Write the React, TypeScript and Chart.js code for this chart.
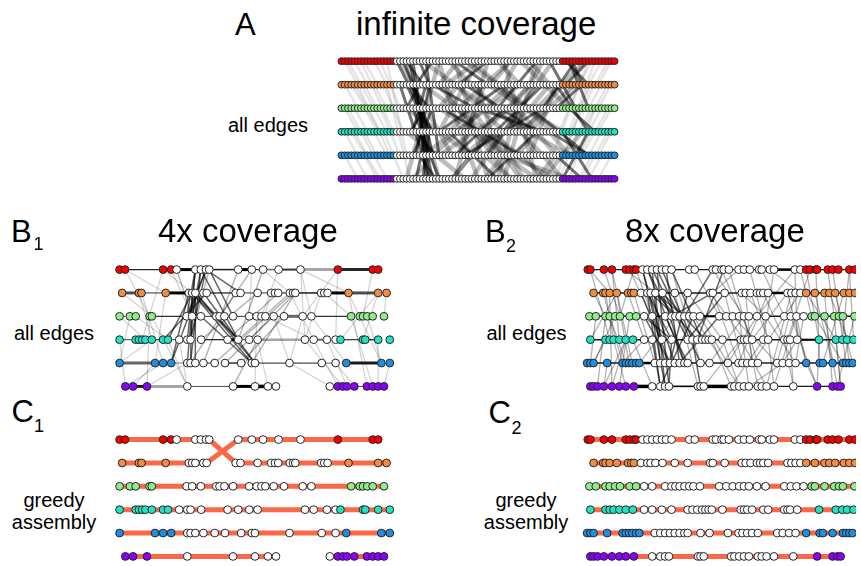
import React, { useEffect, useRef } from "react";
import { Chart, registerables } from "chart.js";

Chart.register(...registerables);

// ---------- colours of the six reference sequences (rows) ----------
const ROW_COLORS = ["#f50000", "#f28c45", "#90ec8c", "#22e2c4", "#1c8fe2", "#8a00fa"];
const GREEDY_COLOR = "#fa6848";

// ---------- panel A: infinite coverage (every position sampled) ----------
const A_POSITIONS = [
  0, 1, 2, 3, 4, 5, 6, 7, 8, 9, 10, 11, 12, 13, 14, 15, 16, 17, 18, 19, 20,
  21, 22, 23, 24, 25, 26, 27, 28, 29, 30, 31, 32, 33, 34, 35, 36, 37, 38, 39,
  40, 41, 42, 43, 44, 45, 46, 47, 48, 49, 50, 51, 52, 53, 54, 55, 56, 57, 58,
  59, 60, 61, 62, 63, 64, 65, 66, 67, 68, 69, 70, 71, 72, 73, 74, 75, 76, 77,
  78, 79, 80, 81, 82, 83, 84,
];
const A_LEFT_COLORED = [17, 17, 17, 17, 17, 17];
const A_RIGHT_COLORED = [17, 17, 17, 17, 17, 17];

// edges: [rowFrom, posFrom, rowTo, posTo, opacity, width]
const A_EDGES_FAINT = [
  [0, 1, 1, 5], [0, 4, 1, 8], [0, 7, 1, 11], [0, 10, 1, 14], [1, 1, 2, 5], [1, 4, 2, 8],
  [1, 7, 2, 11], [1, 10, 2, 14], [2, 1, 3, 5], [2, 4, 3, 8], [2, 7, 3, 11], [2, 10, 3, 14],
  [3, 1, 4, 5], [3, 4, 4, 8], [3, 7, 4, 11], [3, 10, 4, 14], [4, 1, 5, 5], [4, 4, 5, 8],
  [4, 7, 5, 11], [4, 10, 5, 14], [0, 2, 2, 10], [1, 3, 3, 12], [2, 2, 4, 10], [3, 3, 5, 12],
  [0, 6, 3, 16], [1, 5, 4, 15], [0, 83, 1, 79], [0, 80, 1, 76], [0, 77, 1, 73], [1, 83, 2, 79],
  [1, 80, 2, 76], [1, 77, 2, 73], [2, 83, 3, 79], [2, 80, 3, 76], [2, 77, 3, 73], [3, 83, 4, 79],
  [3, 80, 4, 76], [3, 77, 4, 73], [4, 83, 5, 79], [4, 80, 5, 76], [4, 77, 5, 73], [0, 82, 2, 74],
  [1, 82, 3, 74], [2, 82, 4, 74], [3, 82, 5, 74], [0, 78, 3, 70], [2, 78, 5, 70],
  [0, 12, 2, 18], [1, 13, 3, 19], [2, 12, 4, 18], [3, 13, 5, 19], [0, 14, 4, 20], [1, 14, 5, 21],
  [0, 74, 2, 68], [1, 73, 3, 67], [2, 74, 4, 68], [3, 73, 5, 67], [1, 76, 5, 66], [0, 76, 4, 65],
];
const A_EDGES_HAZE = [
  [0, 20, 5, 30], [0, 30, 5, 20], [0, 35, 5, 45], [0, 45, 5, 35], [0, 50, 5, 60], [0, 60, 5, 50],
  [1, 25, 4, 55], [1, 55, 4, 25], [2, 30, 5, 65], [0, 40, 3, 65], [1, 60, 5, 40], [0, 55, 2, 70],
  [3, 40, 5, 60], [2, 45, 4, 70], [0, 65, 4, 45], [1, 35, 3, 50], [2, 20, 4, 40], [3, 20, 5, 38],
  [0, 25, 2, 45], [1, 45, 3, 68], [4, 50, 5, 70], [2, 60, 0, 75], [3, 55, 1, 72], [5, 62, 3, 74],
  [0, 18, 4, 34], [1, 30, 5, 52], [2, 36, 0, 52], [3, 44, 1, 58], [4, 30, 2, 52], [5, 34, 3, 46],
  [0, 38, 2, 58], [1, 48, 4, 66], [2, 54, 5, 48], [4, 58, 1, 66], [3, 30, 0, 42], [5, 55, 2, 40],
  [0, 33, 1, 40], [1, 40, 2, 48], [2, 48, 3, 55], [3, 55, 4, 62], [4, 62, 5, 68], [0, 48, 1, 55],
  [1, 52, 2, 44], [2, 44, 3, 36], [3, 36, 4, 28], [4, 28, 5, 22], [0, 58, 1, 64], [1, 64, 2, 58],
  [2, 58, 3, 50], [3, 50, 4, 44], [4, 44, 5, 52], [0, 42, 1, 32], [1, 32, 2, 36], [2, 36, 3, 42],
  [3, 42, 4, 50], [4, 50, 5, 44], [0, 52, 1, 46], [2, 64, 3, 58], [4, 66, 5, 60], [1, 68, 2, 62],
  [3, 64, 4, 70], [0, 62, 1, 58], [2, 52, 4, 60], [1, 42, 3, 46], [3, 48, 5, 56], [0, 30, 2, 34],
  [0, 36, 1, 30], [1, 36, 2, 30], [2, 40, 3, 33], [3, 46, 4, 38], [4, 40, 5, 34], [0, 54, 1, 50],
  [1, 58, 2, 52], [2, 62, 3, 56], [3, 60, 4, 54], [4, 56, 5, 62], [1, 44, 4, 36], [2, 34, 5, 42],
];
const A_EDGES_BAND = [
  [0, 17, 3, 28], [0, 19, 2, 25], [0, 21, 4, 27], [1, 20, 3, 27], [1, 22, 5, 28], [2, 24, 5, 26],
  [0, 24, 1, 27], [1, 18, 4, 25], [2, 28, 4, 22], [3, 26, 5, 23], [0, 26, 4, 30], [1, 28, 2, 41],
  [2, 22, 5, 30], [3, 23, 4, 29], [0, 22, 5, 27], [1, 26, 3, 22], [2, 26, 3, 21], [4, 24, 5, 29],
  [1, 24, 2, 20], [0, 28, 1, 23], [2, 31, 4, 55], [1, 38, 3, 60], [0, 35, 1, 45], [0, 45, 1, 36],
  [3, 33, 5, 48], [2, 50, 4, 35], [1, 50, 3, 30], [0, 60, 2, 48], [3, 60, 5, 45], [2, 42, 3, 62],
  [4, 38, 2, 62], [1, 62, 4, 40], [0, 69, 1, 76], [0, 76, 1, 69], [0, 71, 1, 74], [1, 66, 3, 76],
  [2, 58, 4, 76], [3, 68, 5, 77], [3, 76, 5, 68], [2, 70, 3, 78], [4, 66, 5, 74], [1, 74, 2, 66],
  [0, 64, 2, 72], [4, 76, 3, 64], [0, 72, 2, 62], [1, 21, 2, 27], [2, 23, 3, 28], [3, 24, 4, 26],
  [4, 25, 5, 27], [1, 27, 4, 23], [2, 25, 4, 28], [0, 20, 1, 25], [3, 27, 5, 25], [0, 70, 2, 76],
];

// ---------- panel B1 / C1: 4x coverage, read positions per row ----------
const B1_ROW0 = [30, 47, 165, 190, 207, 265, 282, 298, 308, 398, 440, 475, 523, 591, 707, 815, 832];
const B1_ROW1 = [38, 90, 98, 173, 245, 255, 265, 290, 300, 390, 405, 458, 500, 512, 522, 558, 568, 575, 655, 665, 675, 740, 832, 858];
const B1_ROW2 = [30, 62, 80, 123, 130, 238, 255, 282, 330, 340, 355, 382, 432, 455, 470, 482, 508, 540, 598, 625, 748, 775, 785, 798, 815, 850];
const B1_ROW3 = [30, 80, 90, 100, 110, 130, 165, 180, 215, 240, 250, 283, 365, 398, 432, 458, 605, 632, 673, 700, 715, 785, 792, 832, 868];
const B1_ROW4 = [30, 140, 165, 190, 240, 250, 265, 290, 325, 357, 407, 440, 450, 557, 657, 700, 733, 842, 868];
const B1_ROW5 = [48, 72, 115, 240, 382, 450, 490, 515, 682, 707, 722, 735, 758, 797, 815, 832, 850];
const B1_LEFT_COLORED = [4, 4, 5, 8, 4, 3];
const B1_RIGHT_COLORED = [3, 3, 6, 5, 3, 8];

const B1_ROW_EDGES = [
  [0, 30, 0, 47, 0.7, 1], [0, 47, 0, 165, 0.85, 1.2], [0, 165, 0, 207, 0.8, 1.2], [0, 207, 0, 265, 1, 3],
  [0, 308, 0, 398, 0.9, 1.5], [0, 398, 0, 440, 1, 3], [0, 440, 0, 475, 0.8, 1.2], [0, 475, 0, 523, 0.6, 1.5],
  [0, 523, 0, 591, 0.8, 2], [0, 591, 0, 707, 0.35, 3], [0, 707, 0, 815, 0.85, 3],
  [1, 38, 1, 90, 0.7, 3], [1, 98, 1, 173, 0.8, 1], [1, 173, 1, 245, 1, 3], [1, 300, 1, 390, 0.9, 1.2],
  [1, 405, 1, 458, 0.8, 1], [1, 458, 1, 500, 0.8, 1], [1, 522, 1, 558, 0.8, 1.2], [1, 575, 1, 655, 0.9, 1.5],
  [1, 675, 1, 740, 1, 3], [1, 740, 1, 832, 0.7, 3],
  [2, 30, 2, 62, 0.6, 1], [2, 130, 2, 238, 0.8, 1.2], [2, 282, 2, 330, 0.8, 1], [2, 382, 2, 432, 0.8, 1],
  [2, 508, 2, 540, 0.7, 1], [2, 540, 2, 598, 0.6, 3], [2, 625, 2, 748, 0.8, 1.2],
  [3, 30, 3, 80, 0.6, 1.2], [3, 130, 3, 165, 0.7, 1.2], [3, 180, 3, 215, 0.7, 1], [3, 283, 3, 365, 0.9, 1.2],
  [3, 365, 3, 398, 1, 3], [3, 398, 3, 432, 0.8, 1], [3, 458, 3, 605, 0.35, 2.5], [3, 632, 3, 673, 0.6, 2],
  [3, 715, 3, 785, 0.8, 1.2], [3, 792, 3, 832, 0.8, 1.5],
  [4, 30, 4, 140, 0.6, 3], [4, 140, 4, 165, 0.8, 1], [4, 190, 4, 240, 0.5, 1], [4, 290, 4, 325, 0.8, 1],
  [4, 357, 4, 407, 0.8, 1.5], [4, 450, 4, 557, 0.7, 1.2], [4, 557, 4, 657, 0.7, 1.2], [4, 657, 4, 700, 0.6, 1],
  [4, 733, 4, 842, 0.9, 3],
  [5, 48, 5, 72, 0.8, 1.2], [5, 72, 5, 115, 0.9, 3], [5, 115, 5, 240, 0.35, 3], [5, 240, 5, 382, 0.7, 1],
  [5, 382, 5, 450, 1, 3], [5, 450, 5, 490, 1, 3.5], [5, 490, 5, 515, 0.8, 1], [5, 682, 5, 850, 0.7, 1],
];
const B1_CROSS_DARK = [
  [0, 265, 3, 240], [0, 282, 4, 250], [0, 298, 3, 250], [0, 282, 2, 255], [0, 265, 4, 240], [1, 255, 4, 250],
  [1, 265, 3, 250], [1, 265, 4, 265], [0, 298, 1, 405], [0, 308, 2, 382], [1, 265, 3, 398], [1, 255, 4, 440],
  [1, 290, 4, 450], [2, 282, 4, 440], [0, 282, 3, 398], [1, 245, 4, 190], [1, 255, 3, 180], [0, 298, 4, 190],
  [1, 300, 3, 165], [0, 265, 2, 238], [1, 265, 4, 450], [1, 255, 3, 398], [0, 298, 2, 238],
];
const B1_CROSS_GRAY = [
  [3, 398, 1, 558], [3, 365, 1, 522], [4, 357, 2, 508], [4, 325, 1, 568], [3, 432, 1, 575], [4, 407, 2, 540],
  [5, 382, 3, 458], [3, 283, 1, 458], [4, 290, 0, 398], [2, 340, 0, 440], [3, 398, 0, 475], [4, 440, 1, 575],
  [4, 250, 1, 390], [3, 250, 0, 308], [2, 255, 0, 207],
];
const B1_CROSS_FAINT = [
  [0, 47, 2, 123], [0, 165, 3, 100], [1, 90, 3, 130], [1, 173, 4, 140], [2, 62, 4, 30], [3, 30, 5, 48],
  [2, 123, 5, 115], [4, 140, 5, 72], [0, 591, 2, 625], [1, 655, 3, 605], [1, 740, 5, 797], [1, 740, 4, 842],
  [2, 748, 5, 815], [2, 625, 4, 733], [3, 632, 5, 707], [0, 707, 3, 700], [2, 598, 0, 707], [3, 715, 1, 832],
  [4, 700, 5, 758], [3, 673, 5, 735], [2, 508, 4, 557], [0, 591, 3, 605], [4, 557, 2, 598], [1, 558, 3, 632],
  [5, 240, 3, 215], [5, 240, 2, 130], [4, 240, 5, 115], [3, 458, 5, 490], [2, 455, 5, 450], [0, 440, 2, 432],
  [1, 500, 3, 458], [0, 523, 2, 470], [0, 190, 2, 255], [1, 98, 4, 165], [2, 80, 3, 180], [0, 165, 1, 255],
  [0, 47, 1, 173], [1, 38, 2, 130], [2, 30, 3, 110], [3, 130, 4, 30], [4, 165, 5, 48], [3, 180, 5, 240],
  [0, 815, 2, 785], [1, 832, 3, 785], [2, 798, 4, 842], [3, 832, 5, 832], [2, 850, 1, 858], [4, 868, 5, 850],
  [0, 475, 1, 558], [2, 482, 3, 632], [4, 557, 5, 682], [3, 605, 5, 722], [1, 665, 2, 748], [0, 591, 1, 740],
];

// greedy assembly for 4x: [rowFrom, posFrom, rowTo, posTo]
const C1_PATHS = [
  [0, 30, 0, 308], [0, 308, 1, 390], [1, 300, 0, 398], [0, 398, 0, 832],
  [1, 38, 1, 300], [1, 390, 1, 858],
  [2, 30, 2, 850], [3, 30, 3, 868], [4, 30, 4, 868],
  [5, 48, 5, 515], [5, 682, 5, 850],
];

// ---------- panel B2 / C2: 8x coverage ----------
const B2_ROW0 = [40, 48, 90, 115, 158, 170, 183, 190, 210, 225, 240, 255, 270, 283, 300, 355, 372, 428, 438, 455, 462, 478, 508, 525, 543, 572, 580, 605, 618, 683, 700, 718, 730, 748, 752, 785, 800, 818, 852, 870];
const B2_ROW1 = [58, 88, 95, 108, 130, 165, 175, 183, 205, 225, 235, 250, 272, 310, 350, 420, 428, 465, 518, 530, 545, 565, 575, 585, 600, 660, 672, 685, 700, 718, 745, 775, 790, 808, 835, 852, 870];
const B2_ROW2 = [45, 65, 95, 108, 125, 140, 170, 190, 215, 240, 280, 300, 312, 325, 340, 355, 368, 388, 448, 470, 490, 510, 525, 540, 565, 592, 650, 670, 688, 710, 735, 745, 775, 805, 820, 832, 868];
const B2_ROW3 = [48, 95, 108, 120, 138, 158, 180, 215, 240, 270, 300, 350, 365, 380, 395, 405, 415, 425, 458, 515, 525, 535, 550, 585, 600, 650, 660, 668, 690, 758, 810, 830, 845, 865];
const B2_ROW4 = [38, 48, 58, 100, 148, 158, 168, 178, 190, 200, 248, 265, 280, 295, 310, 325, 340, 350, 390, 418, 475, 508, 520, 535, 550, 568, 628, 645, 665, 685, 718, 760, 770, 800, 832, 842, 852, 862];
const B2_ROW5 = [48, 58, 70, 90, 115, 138, 158, 183, 240, 265, 280, 292, 382, 390, 400, 485, 495, 510, 525, 540, 568, 580, 595, 618, 678, 752, 800, 815, 825];
const B2_LEFT_COLORED = [8, 8, 8, 7, 10, 8];
const B2_RIGHT_COLORED = [9, 8, 7, 5, 8, 4];

const B2_ROW_EDGES = [
  [0, 40, 0, 870, 0.9, 1.4], [0, 618, 0, 683, 1, 2.5],
  [1, 58, 1, 870, 0.9, 1.4], [1, 600, 1, 660, 1, 2.5],
  [2, 45, 2, 868, 0.9, 1.4], [2, 388, 2, 448, 1, 2],
  [3, 48, 3, 865, 0.9, 1.4], [3, 690, 3, 758, 1, 2],
  [4, 38, 4, 862, 0.9, 1.4], [4, 200, 4, 248, 1, 2.5],
  [5, 48, 5, 825, 0.9, 1.4], [5, 183, 5, 240, 1, 3.5], [5, 400, 5, 485, 1, 3.5], [5, 292, 5, 382, 0.9, 1.5],
];
const B2_CROSS_DARK = [
  [0, 225, 2, 300], [0, 240, 3, 350], [0, 255, 2, 325], [0, 270, 3, 365], [1, 225, 3, 300], [1, 235, 4, 310],
  [1, 250, 2, 340], [1, 250, 3, 380], [1, 272, 4, 340], [0, 283, 4, 325], [2, 215, 4, 295], [2, 240, 5, 280],
  [1, 225, 5, 265], [0, 210, 4, 280], [2, 280, 4, 350], [3, 300, 5, 292], [0, 300, 3, 395], [1, 272, 3, 405],
  [0, 240, 4, 265], [2, 300, 1, 428], [3, 350, 1, 465], [4, 325, 2, 448], [2, 340, 0, 428], [3, 380, 0, 462],
  [0, 210, 3, 270], [1, 205, 4, 295], [0, 255, 5, 292], [1, 235, 2, 312], [2, 215, 3, 300], [3, 240, 5, 265],
  [0, 225, 4, 340], [1, 250, 5, 280], [2, 325, 4, 390], [3, 365, 5, 390], [4, 295, 1, 350], [5, 265, 2, 368],
];
const B2_CROSS_GRAY = [
  [0, 90, 2, 140], [0, 115, 3, 138], [1, 95, 3, 120], [1, 130, 4, 168], [2, 108, 4, 158], [2, 170, 5, 138],
  [3, 158, 5, 115], [0, 158, 1, 250], [0, 190, 2, 240], [1, 165, 3, 215], [1, 183, 4, 248], [3, 180, 5, 240],
  [4, 100, 5, 90], [2, 65, 4, 48], [0, 45, 1, 108], [1, 58, 2, 95], [3, 95, 4, 58], [0, 170, 3, 270],
  [4, 200, 2, 312], [0, 428, 2, 525], [0, 455, 3, 550], [0, 478, 4, 568], [1, 420, 3, 525], [1, 465, 4, 520],
  [1, 518, 2, 592], [1, 545, 3, 600], [2, 490, 4, 628], [2, 510, 5, 540], [3, 458, 5, 510], [3, 515, 5, 595],
  [4, 475, 2, 565], [4, 508, 1, 600], [4, 550, 2, 650], [5, 485, 3, 585], [5, 540, 4, 645], [3, 550, 1, 660],
  [2, 565, 0, 683], [1, 585, 3, 650], [0, 700, 2, 735], [0, 718, 3, 758], [0, 748, 4, 760], [0, 785, 2, 805],
  [1, 718, 3, 810], [1, 745, 4, 800], [1, 775, 5, 800], [2, 745, 4, 832], [2, 775, 5, 815], [3, 758, 5, 752],
  [3, 810, 5, 825], [4, 718, 5, 752], [2, 688, 4, 718], [3, 668, 5, 678], [1, 700, 2, 650], [0, 683, 3, 690],
  [4, 685, 2, 710], [5, 678, 3, 650], [1, 808, 4, 862], [0, 852, 3, 865], [2, 832, 4, 852], [0, 300, 4, 390],
  [1, 310, 5, 382], [2, 388, 4, 475], [3, 425, 5, 485], [1, 350, 3, 458], [0, 372, 2, 448], [4, 418, 2, 525],
  [5, 400, 3, 515], [0, 508, 1, 428], [2, 592, 4, 685], [3, 600, 5, 618], [0, 605, 1, 700], [1, 428, 4, 508],
  [2, 368, 5, 510], [0, 48, 3, 108], [1, 88, 4, 148], [2, 95, 5, 70], [3, 120, 5, 158], [4, 58, 2, 125],
  [0, 115, 4, 178], [1, 108, 5, 115], [3, 48, 1, 130], [2, 140, 0, 183], [4, 148, 3, 215], [5, 90, 3, 158],
  [0, 543, 3, 600], [1, 530, 4, 550], [2, 525, 5, 568], [3, 585, 0, 618], [4, 628, 1, 685], [5, 618, 2, 688],
  [0, 580, 2, 650], [1, 660, 4, 718], [2, 670, 5, 752], [3, 660, 0, 730], [4, 645, 3, 690], [5, 595, 1, 672],
  [0, 800, 4, 842], [1, 790, 3, 845], [2, 805, 5, 825], [3, 830, 0, 852], [4, 770, 1, 835], [5, 815, 2, 868],
];

const C2_PATHS = [
  [0, 40, 0, 870], [1, 58, 1, 870], [2, 45, 2, 868], [3, 48, 3, 865], [4, 38, 4, 862], [5, 48, 5, 825],
];

// ---------- helpers ----------
type EdgeGroup = { edges: number[][]; color: string; width: number; alpha?: number };

type PanelProps = {
  left: number;
  top: number;
  width: number;
  height: number;
  xMin: number;
  xMax: number;
  rows: number[][];
  leftColored: number[];
  rightColored: number[];
  groups: EdgeGroup[];
  radius: number;
  border: number;
};

function Panel(p: PanelProps) {
  const ref = useRef<HTMLCanvasElement | null>(null);
  useEffect(() => {
    const datasets: any[] = [];
    p.rows.forEach((xs, r) => {
      datasets.push({
        type: "scatter",
        data: xs.map((x) => ({ x, y: r })),
        showLine: false,
        pointRadius: p.radius,
        pointHoverRadius: p.radius,
        pointBorderWidth: p.border,
        pointBorderColor: "#262626",
        pointBackgroundColor: xs.map((_, i) =>
          i < p.leftColored[r] || i >= xs.length - p.rightColored[r] ? ROW_COLORS[r] : "#ffffff"
        ),
        order: 0,
      });
    });
    p.groups.forEach((g, gi) => {
      g.edges.forEach((e) => {
        const a = e.length > 4 ? e[4] : g.alpha ?? 1;
        const w = e.length > 5 ? e[5] : g.width;
        datasets.push({
          type: "scatter",
          data: [
            { x: e[1], y: e[0] },
            { x: e[3], y: e[2] },
          ],
          showLine: true,
          borderColor: g.color === "black" ? `rgba(0,0,0,${a})` : g.color,
          borderWidth: w,
          pointRadius: 0,
          pointHoverRadius: 0,
          order: 10 - gi,
        });
      });
    });
    const chart = new Chart(ref.current as HTMLCanvasElement, {
      type: "scatter",
      data: { datasets },
      options: {
        responsive: false,
        animation: false,
        events: [],
        layout: { padding: 0 },
        plugins: { legend: { display: false }, tooltip: { enabled: false }, title: { display: false } },
        scales: {
          x: { type: "linear", display: false, min: p.xMin, max: p.xMax },
          y: { type: "linear", display: false, min: -0.5, max: 5.5, reverse: true },
        },
      },
    });
    return () => chart.destroy();
  }, []);
  return (
    <canvas
      ref={ref}
      width={p.width}
      height={p.height}
      style={{ position: "absolute", left: p.left, top: p.top, width: p.width, height: p.height }}
    />
  );
}

const FONT = '"Liberation Sans", Arial, Helvetica, sans-serif';

function Label(props: { text: string; left: number; top: number; size: number; center?: boolean; lh?: number }) {
  return (
    <div
      style={{
        position: "absolute",
        left: props.left,
        top: props.top,
        fontSize: props.size,
        lineHeight: `${props.lh ?? props.size}px`,
        whiteSpace: "pre",
        textAlign: props.center ? "center" : "left",
        transform: props.center ? "translateX(-50%)" : undefined,
        color: "#000",
      }}
    >
      {props.text}
    </div>
  );
}

export default function App() {
  const B1_ROWS = [B1_ROW0, B1_ROW1, B1_ROW2, B1_ROW3, B1_ROW4, B1_ROW5];
  const B2_ROWS = [B2_ROW0, B2_ROW1, B2_ROW2, B2_ROW3, B2_ROW4, B2_ROW5];
  const A_ROWS = [A_POSITIONS, A_POSITIONS, A_POSITIONS, A_POSITIONS, A_POSITIONS, A_POSITIONS];
  return (
    <div
      style={{
        position: "fixed",
        left: 0,
        top: 0,
        width: 861,
        height: 566,
        overflow: "hidden",
        background: "#ffffff",
        fontFamily: FONT,
      }}
    >
      <Panel
        left={324} top={45} width={308} height={150} xMin={-4} xMax={88}
        rows={A_ROWS} leftColored={A_LEFT_COLORED} rightColored={A_RIGHT_COLORED}
        radius={3.4} border={1}
        groups={[
          { edges: A_EDGES_FAINT, color: "black", width: 2.5, alpha: 0.1 },
          { edges: A_EDGES_HAZE, color: "black", width: 4.5, alpha: 0.26 },
          { edges: A_EDGES_BAND, color: "black", width: 3, alpha: 0.55 },
        ]}
      />
      <Panel
        left={105} top={253} width={300} height={150} xMin={0} xMax={900}
        rows={B1_ROWS} leftColored={B1_LEFT_COLORED} rightColored={B1_RIGHT_COLORED}
        radius={3.9} border={1}
        groups={[
          { edges: B1_CROSS_FAINT, color: "black", width: 1.3, alpha: 0.17 },
          { edges: B1_CROSS_GRAY, color: "black", width: 1.3, alpha: 0.32 },
          { edges: B1_CROSS_DARK, color: "black", width: 1.5, alpha: 0.6 },
          { edges: B1_ROW_EDGES, color: "black", width: 1 },
        ]}
      />
      <Panel
        left={105} top={423} width={300} height={150} xMin={0} xMax={900}
        rows={B1_ROWS} leftColored={B1_LEFT_COLORED} rightColored={B1_RIGHT_COLORED}
        radius={3.9} border={1}
        groups={[{ edges: C1_PATHS, color: GREEDY_COLOR, width: 5 }]}
      />
      <Panel
        left={570} top={253} width={291} height={150} xMin={0} xMax={873}
        rows={B2_ROWS} leftColored={B2_LEFT_COLORED} rightColored={B2_RIGHT_COLORED}
        radius={3.9} border={1}
        groups={[
          { edges: B2_CROSS_GRAY, color: "black", width: 1.3, alpha: 0.3 },
          { edges: B2_CROSS_DARK, color: "black", width: 1.5, alpha: 0.6 },
          { edges: B2_ROW_EDGES, color: "black", width: 1.4 },
        ]}
      />
      <Panel
        left={570} top={423} width={291} height={150} xMin={0} xMax={873}
        rows={B2_ROWS} leftColored={B2_LEFT_COLORED} rightColored={B2_RIGHT_COLORED}
        radius={3.9} border={1}
        groups={[{ edges: C2_PATHS, color: GREEDY_COLOR, width: 5 }]}
      />

      <Label text="A" left={235} top={8.8} size={31} />
      <Label text="infinite coverage" left={356} top={7.1} size={33} />
      <Label text="all edges" left={228} top={115} size={20} />

      <Label text="B" left={11} top={215.8} size={31} />
      <Label text="1" left={33.5} top={234.8} size={18} />
      <Label text="4x coverage" left={158} top={214.4} size={33} />
      <Label text="all edges" left={14} top={323} size={20} />

      <Label text="B" left={485} top={215.5} size={31} />
      <Label text="2" left={506} top={236.8} size={18} />
      <Label text="8x coverage" left={625} top={214} size={33} />
      <Label text="all edges" left={486.5} top={323} size={20} />

      <Label text="C" left={11.5} top={395.8} size={31} />
      <Label text="1" left={34} top={416.8} size={18} />
      <Label text={"greedy\nassembly"} left={54} top={489} size={20} lh={22} center />

      <Label text="C" left={488.5} top={396.5} size={31} />
      <Label text="2" left={511.5} top={418.8} size={18} />
      <Label text={"greedy\nassembly"} left={526} top={489} size={20} lh={22} center />
    </div>
  );
}
